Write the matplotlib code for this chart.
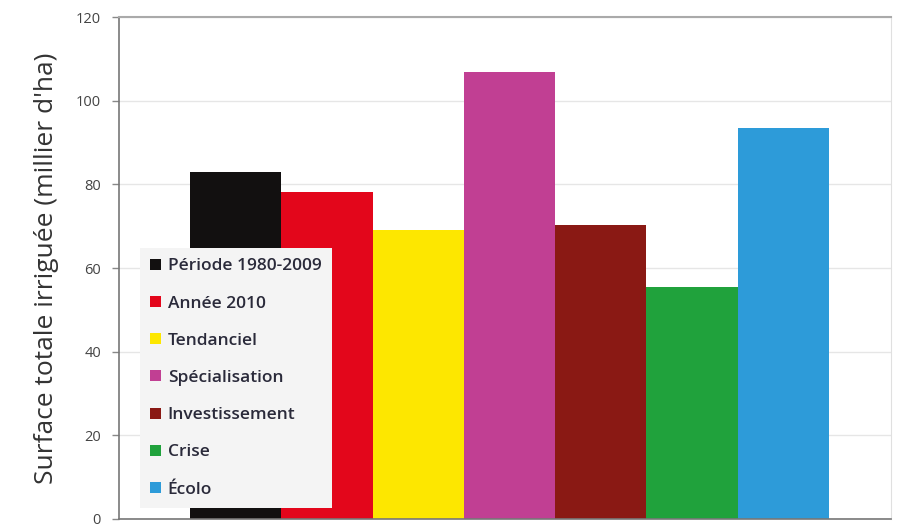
import matplotlib
matplotlib.use('Agg')
import matplotlib.pyplot as plt
from matplotlib.patches import Patch

# scenarios and irrigated area (thousand ha)
scenarios = ['Période 1980-2009', 'Année 2010', 'Tendanciel', 'Spécialisation',
             'Investissement', 'Crise', 'Écolo']
surface = [83.0, 78.2, 69.1, 106.9, 70.3, 55.5, 93.5]
colors = ['#121010', '#e3061b', '#fde700', '#c13f93', '#8a1914', '#20a23c', '#2d9bd9']
yticks = [0, 20, 40, 60, 80, 100, 120]

plt.rcParams['font.family'] = ['Open Sans', 'DejaVu Sans']

fig = plt.figure(figsize=(8.97, 5.27), dpi=100)
ax = fig.add_axes([0.1327, 0.0152, 0.8606, 0.9525])

x = list(range(len(surface)))
ax.bar(x, surface, width=1.0, color=colors, zorder=2)

ax.set_xlim(-1.28, 7.18)
ax.set_ylim(0, 120)
ax.set_yticks(yticks)
ax.set_xticks([])
ax.yaxis.grid(True, color='#e6e6e6', linewidth=1, zorder=0)
ax.tick_params(axis='y', direction='out', length=5, width=1, color='#888888',
               labelsize=10.5, labelcolor='#444444', pad=8)

for side in ['left', 'bottom']:
    ax.spines[side].set_color('#777777')
    ax.spines[side].set_linewidth(1.2)
ax.spines['top'].set_color('#aaaaaa')
ax.spines['top'].set_linewidth(1.5)
ax.spines['right'].set_color('#e0e0e0')

ax.set_ylabel("Surface totale irriguée (millier d'ha)", fontsize=19, color='#333333', labelpad=12)

handles = [Patch(facecolor=c, edgecolor='none') for c in colors]
leg = ax.legend(handles, scenarios, loc='lower left', bbox_to_anchor=(0.027, 0.022),
                frameon=True, fancybox=False, framealpha=1, facecolor='#f4f4f4',
                edgecolor='none', fontsize=12.5, labelspacing=1.22, handlelength=0.6,
                handleheight=0.6, handletextpad=0.4, borderpad=0.6, borderaxespad=0)
leg.set_zorder(5)
for t in leg.get_texts():
    t.set_color('#2a2a3a')
    t.set_fontweight('semibold')

fig.savefig('out.png', dpi=100)
